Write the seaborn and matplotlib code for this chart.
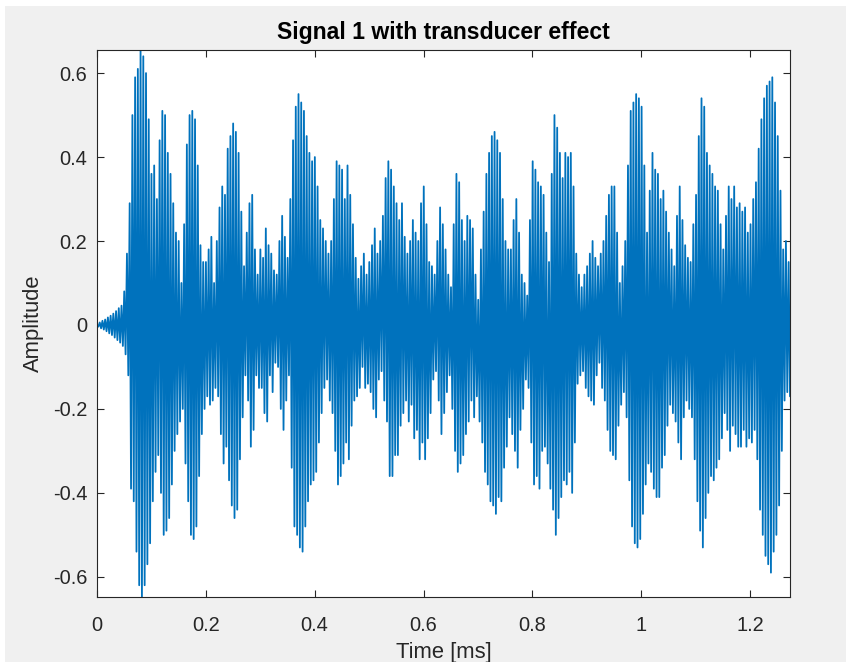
import numpy as np
import pandas as pd
import matplotlib
matplotlib.use("Agg")
import matplotlib.pyplot as plt
from matplotlib.patches import Rectangle
import seaborn as sns

# ---- data (signed samples, 0.0025 ms apart) ----
t_start = 0.0
t_end = 1.2734
amplitude = [
    0.0, -0.004, 0.006, -0.008, 0.010, -0.011, 0.013, -0.015, 0.018, -0.02, 0.022, -0.024, 0.027, -0.03, 0.033, -0.036, 0.04, -0.042, 0.046, -0.05,
    0.08, -0.07, 0.17, -0.12, 0.29, -0.39, 0.50, -0.42, 0.59, -0.54, 0.61, -0.62, 0.655, -0.648, 0.64, -0.62, 0.60, -0.57, 0.49, -0.52,
    0.36, -0.42, 0.38, -0.35, 0.30, -0.31, 0.44, -0.40, 0.51, -0.50, 0.50, -0.49, 0.41, -0.46, 0.36, -0.38, 0.29, -0.30, 0.22, -0.26,
    0.20, -0.23, 0.10, -0.20, 0.24, -0.33, 0.43, -0.42, 0.50, -0.50, 0.51, -0.51, 0.49, -0.48, 0.38, -0.36, 0.19, -0.26, 0.15, -0.20,
    0.15, -0.17, 0.18, -0.19, 0.21, -0.18, 0.10, -0.15, 0.20, -0.17, 0.28, -0.26, 0.33, -0.33, 0.31, -0.29, 0.42, -0.37, 0.45, -0.43,
    0.48, -0.46, 0.46, -0.44, 0.41, -0.32, 0.27, -0.22, 0.14, -0.12, 0.22, -0.18, 0.29, -0.29, 0.31, -0.25, 0.18, -0.12, 0.12, -0.15,
    0.18, -0.15, 0.16, -0.21, 0.23, -0.23, 0.19, -0.12, 0.17, -0.16, 0.13, -0.09, 0.12, -0.10, 0.20, -0.20, 0.26, -0.25, 0.21, -0.18,
    0.16, -0.12, 0.30, -0.34, 0.44, -0.48, 0.52, -0.50, 0.55, -0.53, 0.53, -0.54, 0.51, -0.48, 0.45, -0.42, 0.41, -0.38, 0.39, -0.37,
    0.40, -0.35, 0.33, -0.28, 0.25, -0.21, 0.23, -0.15, 0.20, -0.13, 0.17, -0.18, 0.20, -0.21, 0.30, -0.30, 0.39, -0.38, 0.38, -0.36,
    0.37, -0.33, 0.30, -0.28, 0.38, -0.32, 0.31, -0.24, 0.24, -0.18, 0.16, -0.17, 0.11, -0.15, 0.14, -0.10, 0.17, -0.15, 0.12, -0.14,
    0.15, -0.16, 0.19, -0.20, 0.23, -0.22, 0.17, -0.13, 0.20, -0.11, 0.26, -0.18, 0.35, -0.23, 0.39, -0.36, 0.37, -0.36, 0.33, -0.31,
    0.29, -0.31, 0.25, -0.24, 0.29, -0.21, 0.21, -0.18, 0.17, -0.23, 0.20, -0.19, 0.25, -0.27, 0.22, -0.25, 0.20, -0.32, 0.29, -0.28,
    0.33, -0.32, 0.24, -0.27, 0.15, -0.21, 0.14, -0.13, 0.12, -0.11, 0.20, -0.18, 0.28, -0.26, 0.24, -0.21, 0.18, -0.16, 0.12, -0.12,
    0.09, -0.20, 0.24, -0.30, 0.36, -0.35, 0.34, -0.33, 0.25, -0.31, 0.20, -0.26, 0.26, -0.23, 0.25, -0.18, 0.23, -0.22, 0.12, -0.17,
    0.06, -0.23, 0.18, -0.28, 0.27, -0.35, 0.36, -0.38, 0.41, -0.42, 0.45, -0.43, 0.46, -0.45, 0.44, -0.41, 0.41, -0.42, 0.30, -0.34,
    0.20, -0.29, 0.18, -0.22, 0.18, -0.26, 0.25, -0.30, 0.30, -0.34, 0.22, -0.25, 0.12, -0.20, 0.10, -0.13, 0.07, -0.15, 0.25, -0.28,
    0.39, -0.38, 0.37, -0.36, 0.34, -0.39, 0.33, -0.30, 0.31, -0.29, 0.22, -0.33, 0.15, -0.39, 0.36, -0.44, 0.50, -0.50, 0.47, -0.46,
    0.41, -0.41, 0.35, -0.37, 0.41, -0.38, 0.40, -0.35, 0.41, -0.40, 0.33, -0.28, 0.17, -0.14, 0.12, -0.12, 0.09, -0.11, 0.12, -0.15,
    0.14, -0.17, 0.17, -0.18, 0.20, -0.19, 0.16, -0.12, 0.14, -0.09, 0.17, -0.15, 0.20, -0.18, 0.26, -0.25, 0.31, -0.30, 0.33, -0.31,
    0.33, -0.32, 0.22, -0.24, 0.10, -0.19, 0.14, -0.16, 0.20, -0.22, 0.38, -0.37, 0.51, -0.48, 0.53, -0.52, 0.55, -0.53, 0.54, -0.51,
    0.52, -0.45, 0.38, -0.38, 0.22, -0.33, 0.32, -0.35, 0.41, -0.39, 0.37, -0.41, 0.36, -0.41, 0.30, -0.34, 0.32, -0.31, 0.27, -0.24,
    0.22, -0.19, 0.18, -0.21, 0.14, -0.23, 0.26, -0.28, 0.33, -0.32, 0.25, -0.22, 0.19, -0.18, 0.16, -0.20, 0.15, -0.22, 0.24, -0.32,
    0.31, -0.42, 0.45, -0.49, 0.54, -0.53, 0.52, -0.46, 0.41, -0.40, 0.38, -0.36, 0.36, -0.37, 0.33, -0.34, 0.32, -0.32, 0.24, -0.27,
    0.18, -0.21, 0.26, -0.25, 0.33, -0.30, 0.30, -0.24, 0.33, -0.26, 0.28, -0.29, 0.29, -0.29, 0.27, -0.25, 0.28, -0.29, 0.22, -0.27,
    0.24, -0.28, 0.30, -0.25, 0.34, -0.32, 0.42, -0.44, 0.49, -0.50, 0.54, -0.55, 0.57, -0.57, 0.58, -0.59, 0.59, -0.54, 0.53, -0.50,
    0.45, -0.43, 0.32, -0.30, 0.18, -0.18, 0.20, -0.16, 0.15, -0.17,
]
x_ticks = [0, 0.2, 0.4, 0.6, 0.8, 1.0, 1.2]
x_tick_labels = ["0", "0.2", "0.4", "0.6", "0.8", "1", "1.2"]
y_ticks = [-0.6, -0.4, -0.2, 0, 0.2, 0.4, 0.6]
y_tick_labels = ["-0.6", "-0.4", "-0.2", "0", "0.2", "0.4", "0.6"]
title_text = "Signal 1 with transducer effect"
x_label = "Time [ms]"
y_label = "Amplitude"

time = np.linspace(t_start, t_end, len(amplitude))
df = pd.DataFrame({"time": time, "amplitude": amplitude})

sns.set_style("white")
plt.rcParams["font.family"] = ["Liberation Sans", "DejaVu Sans"]
plt.rcParams["axes.unicode_minus"] = False

W, H = 846, 662
fig = plt.figure(figsize=(W / 100, H / 100), dpi=100, facecolor="white")
fig.patches.append(Rectangle((5 / W, 0), 1, (H - 6) / H, transform=fig.transFigure,
                             facecolor="#f0f0f0", edgecolor="none", zorder=-10))
ax = fig.add_axes([97 / W, 65 / H, (790 - 97) / W, (597 - 50) / H])
ax.set_facecolor("white")

sns.lineplot(data=df, x="time", y="amplitude", ax=ax, color="#0072BD",
             linewidth=1.3, estimator=None, sort=False, legend=False)

ax.set_xlim(t_start, t_end)
ax.set_ylim(min(amplitude), max(amplitude))
ax.set_xticks(x_ticks)
ax.set_xticklabels(x_tick_labels)
ax.set_yticks(y_ticks)
ax.set_yticklabels(y_tick_labels)

dark = "#262626"
for s in ax.spines.values():
    s.set_visible(True)
    s.set_color(dark)
    s.set_linewidth(0.8)
ax.tick_params(axis="both", which="both", direction="in", length=5, width=0.8,
               color=dark, labelcolor=dark, labelsize=14.4,
               top=True, right=True, bottom=True, left=True)
ax.tick_params(axis="x", pad=13.5)
ax.tick_params(axis="y", pad=7)

ax.set_title(title_text, fontsize=16.6, fontweight="bold", color="black", pad=8)
ax.set_xlabel(x_label, fontsize=15.8, color=dark, labelpad=5.5)
ax.set_ylabel(y_label, fontsize=15.8, color=dark, labelpad=6)

fig.savefig("out.png", dpi=100, facecolor=fig.get_facecolor())
